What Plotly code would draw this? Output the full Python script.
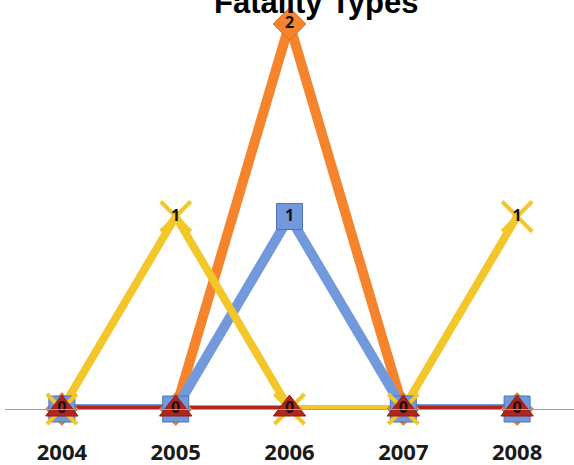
import plotly.graph_objects as go

years = ["2004", "2005", "2006", "2007", "2008"]
orange_vals = [0, 0, 2, 0, 0]
blue_vals = [0, 0, 1, 0, 0]
yellow_vals = [0, 1, 0, 0, 1]
red_vals = [0, 0, 0, 0, 0]

ORANGE = "#F5842C"
BLUE = "#7199DC"
YELLOW = "#F3C62A"
RED = "#B1261B"

fig = go.Figure()

# lines first (order matters for overlap)
for vals, col, w in [(orange_vals, ORANGE, 10), (blue_vals, BLUE, 10),
                     (red_vals, RED, 7), (yellow_vals, YELLOW, 8)]:
    fig.add_trace(go.Scatter(x=years, y=vals, mode="lines",
                             line=dict(color=col, width=w),
                             cliponaxis=False, showlegend=False, hoverinfo="skip"))

# markers
marker_specs = [
    (orange_vals, dict(symbol="diamond", size=25, color=ORANGE, line=dict(color="#D86A18", width=1))),
    (blue_vals, dict(symbol="square", size=26, color=BLUE, line=dict(color="#4D75BA", width=1))),
    (yellow_vals, dict(symbol="x-thin", size=30, color=YELLOW, line=dict(color=YELLOW, width=4))),
    (red_vals, dict(symbol="triangle-up", size=28, color=RED, line=dict(color="#8E1A12", width=1))),
]
for vals, mk in marker_specs:
    fig.add_trace(go.Scatter(x=years, y=vals, mode="markers+text",
                             marker=mk, text=[str(v) for v in vals],
                             textposition="middle center",
                             textfont=dict(family="Open Sans", size=16, color="#111111", weight="bold"),
                             cliponaxis=False, showlegend=False, hoverinfo="skip"))

fig.update_layout(
    width=574, height=465,
    margin=dict(l=5, r=0, t=0, b=56),
    paper_bgcolor="white", plot_bgcolor="white",
    showlegend=False,
    xaxis=dict(type="category", range=[-0.5, 4.5], showline=True, linecolor="#A0A0A0",
               linewidth=1, showgrid=False, zeroline=False, ticks="",
               ticklabelstandoff=24, automargin=False,
               tickfont=dict(family="Open Sans", size=22, color="#1a1a1a", weight="bold")),
    yaxis=dict(range=[0, 409 / 192.5], visible=False, showgrid=False, zeroline=False),
    annotations=[dict(text="<b>Fatality Types</b>", xref="paper", yref="paper",
                      x=(316 - 5) / 569, y=1.0 - 3 / 409, xanchor="center", yanchor="middle",
                      showarrow=False,
                      font=dict(family="Liberation Sans", size=31, color="#000000"))],
)

fig.write_html("out.html", config={"displayModeBar": False},
               post_script="document.body.style.margin='0';")
